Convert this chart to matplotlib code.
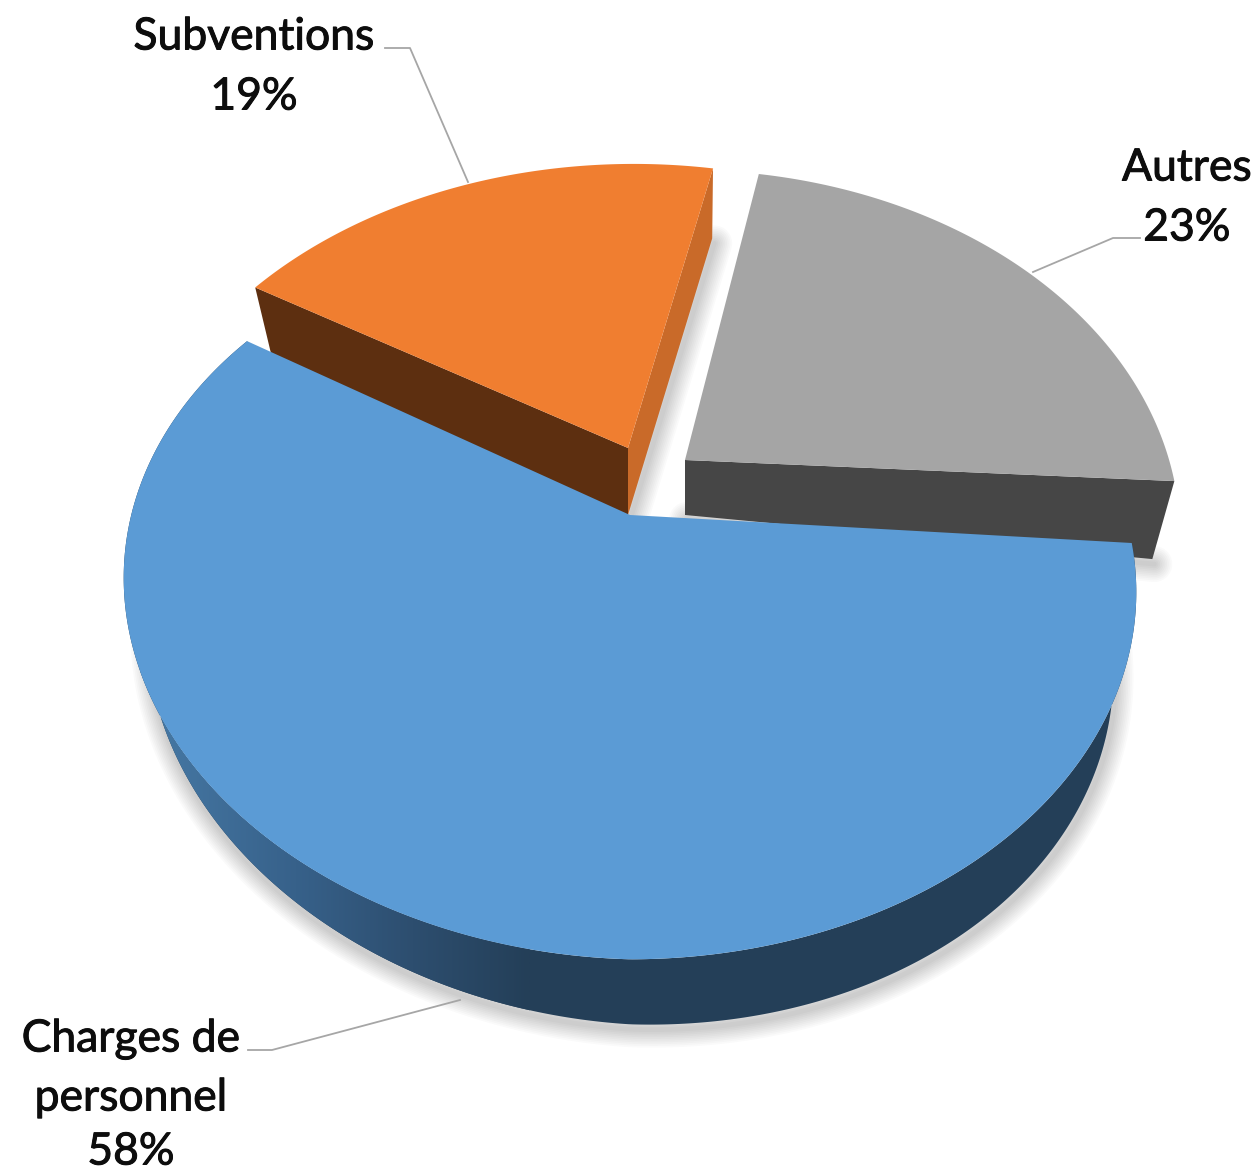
import numpy as np
import matplotlib
matplotlib.use("Agg")
import matplotlib.pyplot as plt
import matplotlib.patheffects as pe
from matplotlib.colors import LinearSegmentedColormap
from matplotlib.patches import Polygon

labels = ["Autres", "Charges de personnel", "Subventions"]
values = [23, 58, 19]
start_angle = 79.4  # slices run clockwise from here

# perspective of the top face, in pixels
RX, RY, P = 495, 351, 0.21
SIDE_SCALE = 0.955

top_colors = ["#A5A5A5", "#5B9BD5", "#F07E30"]
front_colors = ["#464646", "#243F58", "#5D2F10"]

fig = plt.figure(figsize=(12.59, 11.74), dpi=100)
ax = fig.add_axes([0, 0, 1, 1])
ax.set_xlim(0, 1259)
ax.set_ylim(1174, 0)
ax.axis("off")


def arc(a0, a1, cx, cy, n=200):
    t = np.radians(np.linspace(a0, a1, n))
    w = 1 + P * np.sin(t)
    return cx + RX * np.cos(t) / w, cy - RY * np.sin(t) / w


def lower(x, y, cx, dy, tilt):
    # where a point of the top face ends up on the bottom face
    return cx + SIDE_SCALE * (x - cx), y + dy + tilt * (x - cx)


def shadow_line(x, y, zorder):
    for lw in np.arange(26, 1, -2.5):
        ax.plot(x + 2, y + 5, color="black", lw=lw, alpha=0.02,
                solid_capstyle="round", zorder=zorder)


spans = 360 * np.array(values) / sum(values)
ends = start_angle - np.cumsum(spans)
starts = ends + spans

# grey slice, pulled out
a0, a1 = starts[0], ends[0]
cx, cy, dy, tilt = 685, 460, 55, 0.047
xt, yt = arc(a0, a1, cx, cy)
xt = cx + 0.978 * (xt - cx)
xb, yb = lower(xt[-1], yt[-1], cx, dy, tilt)
shadow_line(np.array([cx, xb]), np.array([cy + dy, yb]), 1)
ax.add_patch(Polygon([(cx, cy), (xt[-1], yt[-1]), (xb, yb), (cx, cy + dy)],
                     fc=front_colors[0], ec="none", zorder=2))
ax.add_patch(Polygon(np.r_[[(cx, cy)], np.c_[xt, yt]], fc=top_colors[0], ec="none", zorder=3))

# orange slice, pulled out
a0, a1 = starts[2] + 0.4, ends[2] - 0.5
cx, cy, dy, tilt = 628, 448, 67, 0.013
xt, yt = arc(a0, a1, cx + 6, cy + 6)
xl, yl = lower(xt[0], yt[0], cx, dy, tilt)
yl += 8
xr, yr = lower(xt[-1], yt[-1], cx, dy, 0.035)
xr += 3
shadow_line(np.array([cx, xr]), np.array([cy + dy, yr]), 4)
ax.add_patch(Polygon([(cx, cy), (xt[-1], yt[-1]), (xr, yr), (cx, cy + dy)],
                     fc="#C96A29", ec="none", zorder=5))
ax.add_patch(Polygon([(cx, cy), (xt[0], yt[0]), (xl, yl), (cx, cy + dy)],
                     fc=front_colors[2], ec="none", zorder=5))
ax.add_patch(Polygon(np.r_[[(cx, cy)], np.c_[xt, yt]], fc=top_colors[2], ec="none", zorder=6))

# blue slice, the rim fades from lighter on the left to dark
a0, a1 = starts[1] - 1.1, ends[1] + 1.2
cx, cy, dy, tilt = 630, 515, 65, 0.03
xt, yt = arc(a0, a1, cx, cy, 500)
yt = yt + 0.028 * np.minimum(xt - cx, 0)
xb, yb = lower(xt, yt, cx, dy, tilt)
keep = yb > 620
shadow_line(xb[keep], yb[keep], 7)
rim = Polygon(np.r_[np.c_[xt, yt], np.c_[xb, yb][::-1]], fc=front_colors[1], ec="none", zorder=8)
ax.add_patch(rim)
rim_cmap = LinearSegmentedColormap.from_list(
    "rim", [(0, "#477AA6"), (0.4, "#37618A"), (0.7, "#2D4E6F"), (1, "#243F58")])
grad = ax.imshow(np.linspace(0, 1, 256)[None, :], cmap=rim_cmap, extent=(140, 530, 1100, 600),
                 aspect="auto", zorder=9)
grad.set_clip_path(Polygon(np.r_[np.c_[xt, yt], np.c_[xb, yb][::-1]], transform=ax.transData))
ax.set_xlim(0, 1259)
ax.set_ylim(1174, 0)
ax.add_patch(Polygon(np.r_[[(cx, cy)], np.c_[xt, yt]], fc=top_colors[1], ec="none", zorder=10))

# leader lines
leader_color = "#A6A6A6"
ax.plot([385, 410, 468], [48, 48, 182], color=leader_color, lw=1.3, zorder=5)
ax.plot([1140, 1113, 1033], [238, 238, 272], color=leader_color, lw=1.3, zorder=2)
ax.plot([248, 272, 460], [1050, 1050, 1000], color=leader_color, lw=1.3, zorder=7)

# data labels, one text per line
text_style = dict(family=["Lato", "DejaVu Sans"], fontsize=32, color="#0D0D0D", ha="center", va="center",
                  path_effects=[pe.withStroke(linewidth=0.7, foreground="#0D0D0D")], zorder=12)
ax.text(254, 37, "Subventions", **text_style)
ax.text(254, 97, f"{values[2]}%", **text_style)
ax.text(1187, 168, labels[0], **text_style)
ax.text(1187, 228, f"{values[0]}%", **text_style)
first, second = labels[1].rsplit(" ", 1)
ax.text(131, 1039, first, **text_style)
ax.text(131, 1098, second, **text_style)
ax.text(131, 1152, f"{values[1]}%", **text_style)

fig.savefig("out.png", dpi=100, facecolor="white")
